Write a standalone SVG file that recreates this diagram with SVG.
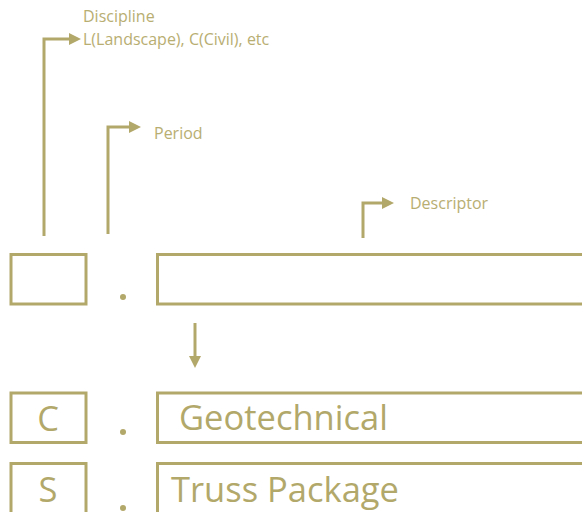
<svg xmlns="http://www.w3.org/2000/svg" width="582" height="512" viewBox="0 0 582 512">
<style>
.box{fill:#fff;stroke:#B2A86A;stroke-width:3}
.ln{fill:none;stroke:#B2A86A;stroke-width:3}
.lbl{font-family:"Open Sans","Liberation Sans",sans-serif;font-size:16px;fill:#B8AE72}
.big{font-family:"Open Sans","Liberation Sans",sans-serif;font-size:34.5px;fill:#B2A86A}
.dot{fill:#B2A86A}
</style>
<defs>
<marker id="ah" viewBox="0 0 10 10" refX="0" refY="5" markerWidth="4" markerHeight="4" markerUnits="strokeWidth" orient="auto">
<path d="M0,0 L10,5 L0,10 Z" fill="#B2A86A"/>
</marker>
</defs>
<g id="connectors">
<path class="ln" d="M44,236 V39 H69" marker-end="url(#ah)"/>
<path class="ln" d="M108,234 V127 H129" marker-end="url(#ah)"/>
<path class="ln" d="M363,238 V203 H382" marker-end="url(#ah)"/>
<path class="ln" d="M195,323 V356" marker-end="url(#ah)"/>
</g>
<g id="label-discipline">
<text class="lbl" x="83" y="22">Discipline</text>
<text class="lbl" x="83" y="45">L(Landscape), C(Civil), etc</text>
</g>
<g id="label-period"><text class="lbl" x="154" y="139">Period</text></g>
<g id="label-descriptor"><text class="lbl" x="410" y="209">Descriptor</text></g>
<g id="discipline-box"><rect class="box" x="11" y="254.5" width="75" height="49.5"/></g>
<g id="dot1"><circle class="dot" cx="123" cy="297" r="3"/></g>
<g id="descriptor-box"><rect class="box" x="157.5" y="254.5" width="440" height="49.5"/></g>
<g id="c-box"><rect class="box" x="11" y="393" width="75" height="49.5"/><text class="big" x="48" y="431" text-anchor="middle">C</text></g>
<g id="dot2"><circle class="dot" cx="123" cy="432" r="3"/></g>
<g id="geo-box"><rect class="box" x="157.5" y="393" width="440" height="49.5"/><text class="big" x="179" y="430">Geotechnical</text></g>
<g id="s-box"><rect class="box" x="11" y="463.5" width="75" height="60"/><text class="big" x="48" y="502" text-anchor="middle">S</text></g>
<g id="dot3"><circle class="dot" cx="123" cy="508" r="3"/></g>
<g id="truss-box"><rect class="box" x="157.5" y="463.5" width="440" height="60"/><text class="big" x="171" y="502">Truss Package</text></g>
</svg>
